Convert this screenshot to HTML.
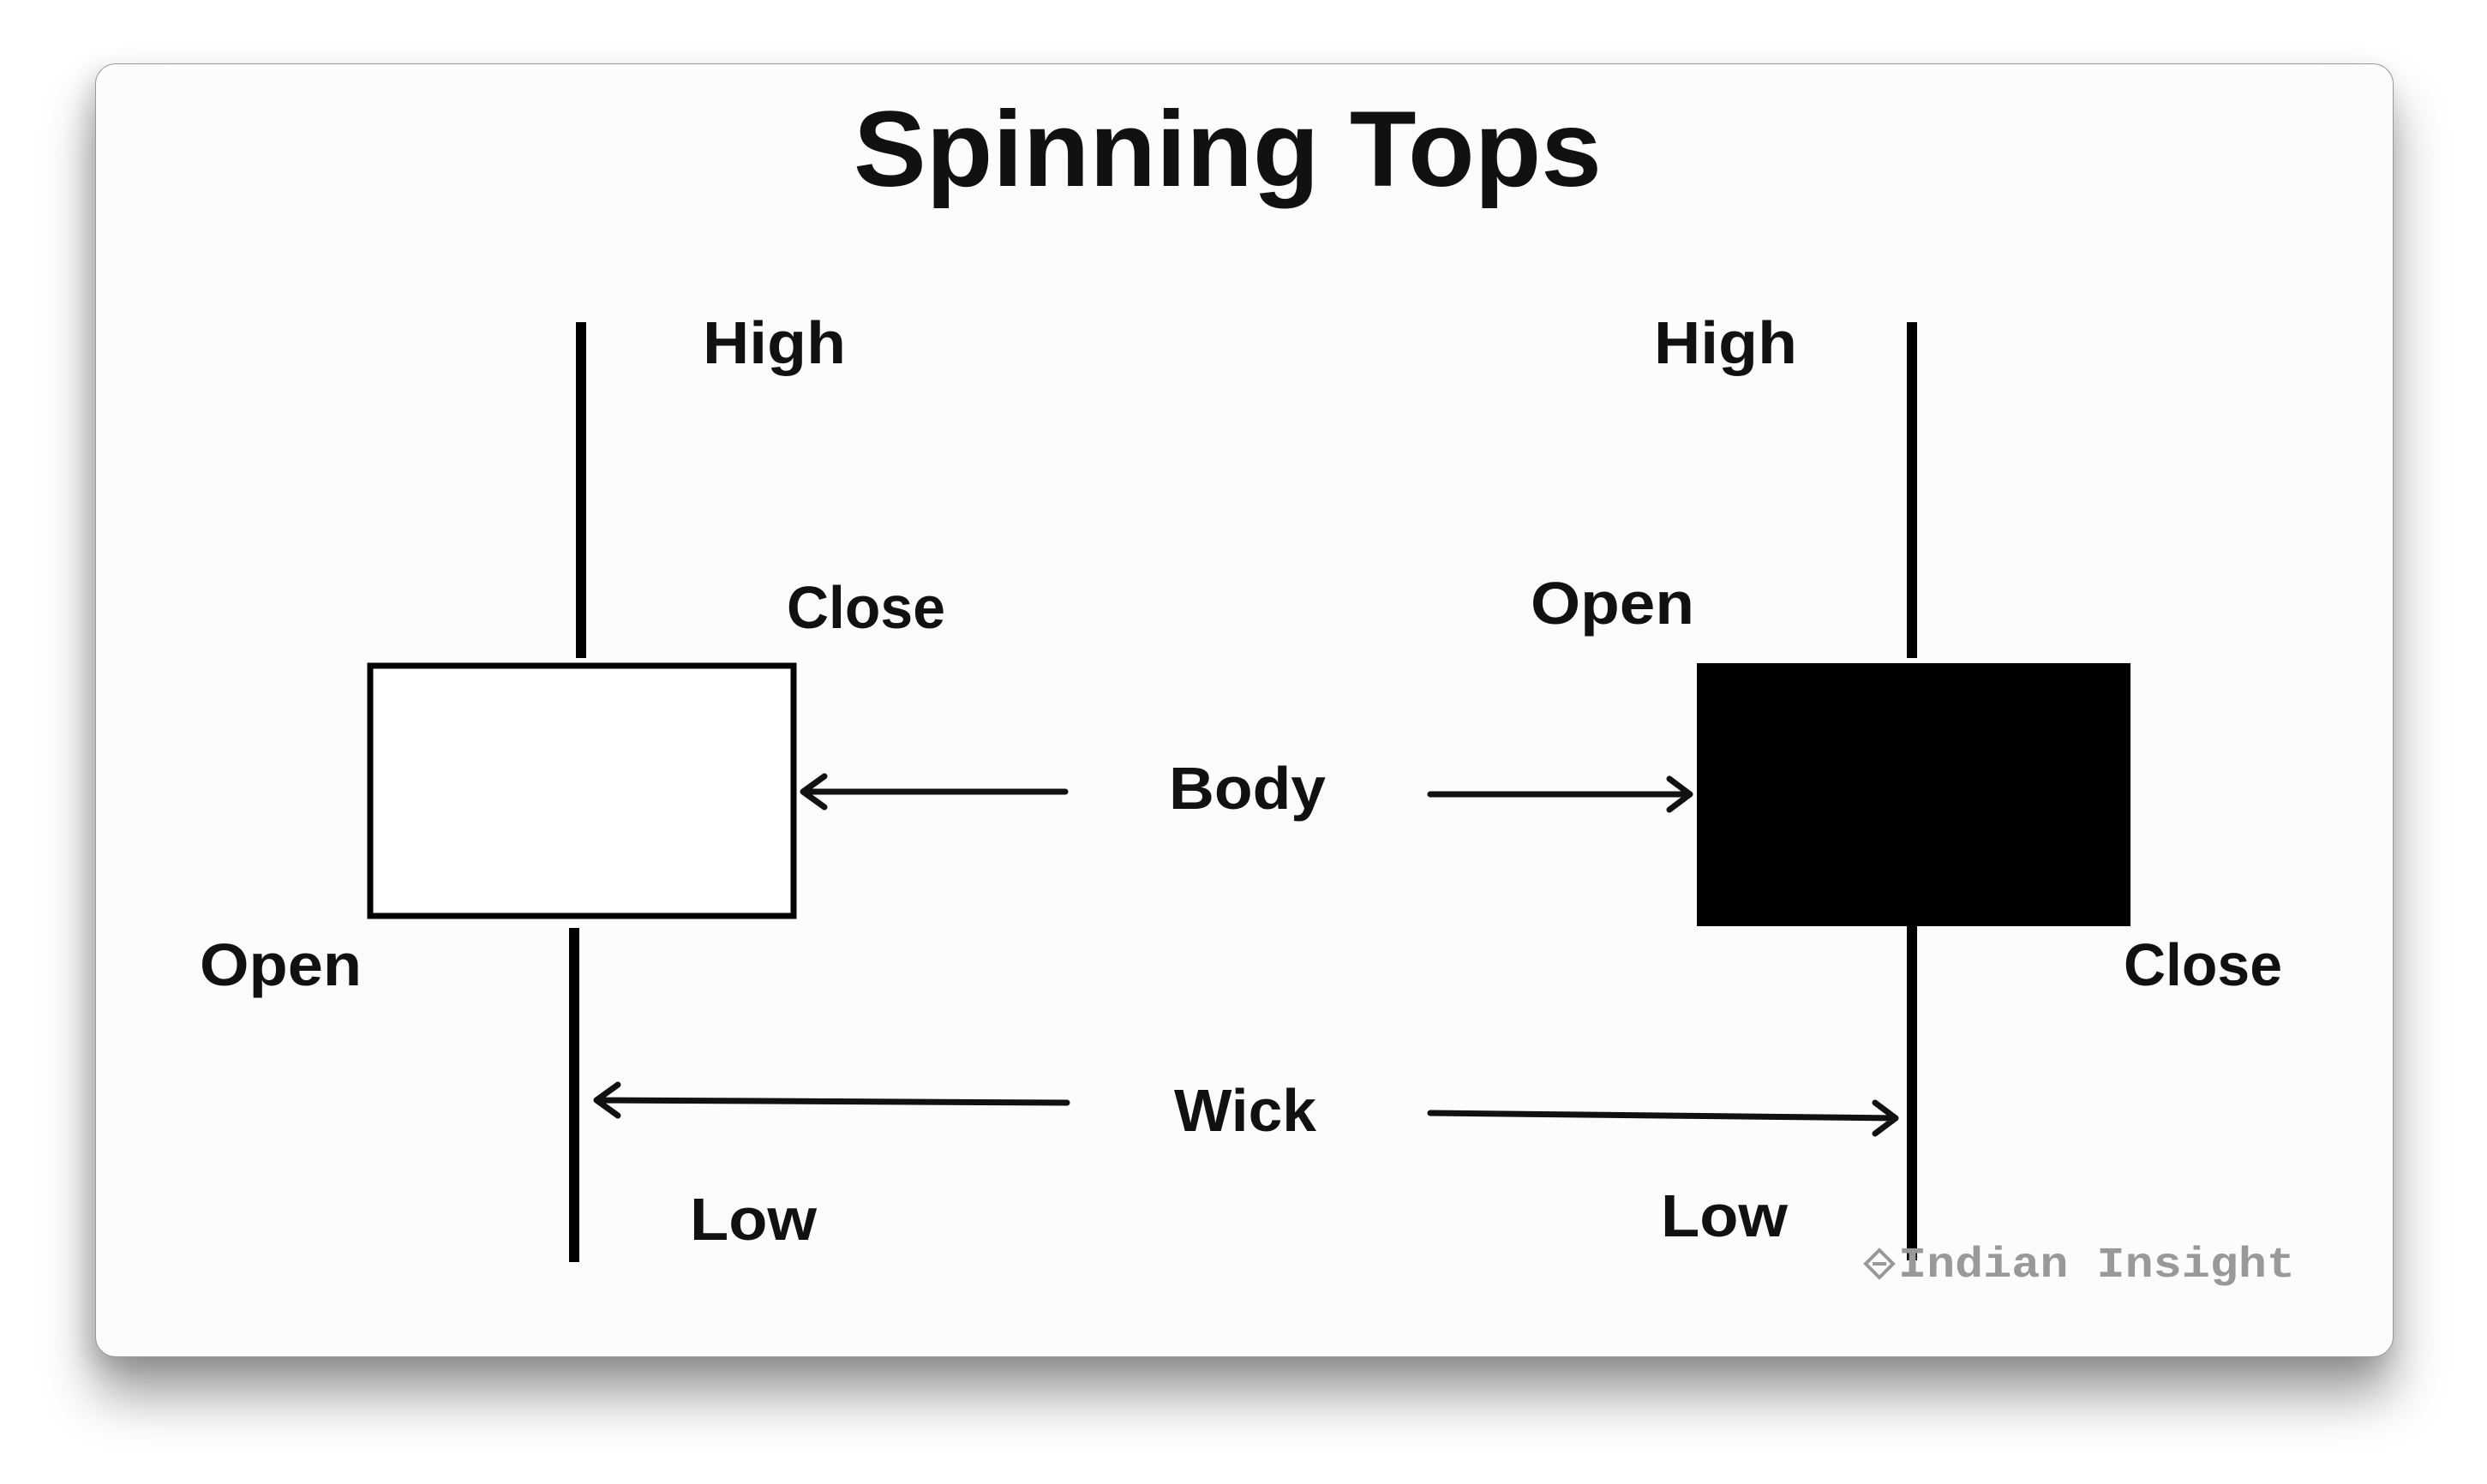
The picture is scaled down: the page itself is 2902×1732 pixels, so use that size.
<!DOCTYPE html>
<html><head><meta charset="utf-8">
<style>
html,body{margin:0;padding:0;background:#fff;width:2902px;height:1732px;overflow:hidden}
#card{position:absolute;left:111px;top:74px;width:2680px;height:1508px;background:#fcfcfc;border:1px solid #999;border-radius:24px;box-shadow:0 45px 60px rgba(0,0,0,0.38),-8px 10px 30px rgba(0,0,0,0.15)}
svg{position:absolute;left:0;top:0}
text{font-family:"Liberation Sans",sans-serif;font-weight:bold;fill:#111}
</style></head><body>
<div id="card"></div>
<svg width="2902" height="1732">
<text x="996" y="217" font-size="125" textLength="873" lengthAdjust="spacingAndGlyphs">Spinning Tops</text>
<g>
<line x1="678" y1="376" x2="678" y2="768" stroke="#000" stroke-width="12"/>
<rect x="432" y="777" width="494" height="292" fill="#fff" stroke="#000" stroke-width="7"/>
<line x1="670" y1="1083" x2="670" y2="1473" stroke="#000" stroke-width="12"/>
</g>
<g>
<line x1="2231" y1="376" x2="2231" y2="768" stroke="#000" stroke-width="12"/>
<rect x="1980" y="774" width="506" height="307" fill="#000"/>
<line x1="2231" y1="1081" x2="2231" y2="1471" stroke="#000" stroke-width="12"/>
</g>
<g fill="none" stroke="#111" stroke-width="7" stroke-linecap="round" stroke-linejoin="round">
<path d="M1243 924 L937 924 M962 906 L937 924 L962 942"/>
<path d="M1669 927 L1972 927 M1948 909 L1972 927 L1948 945"/>
<path d="M1245 1287 L696 1284 M721 1266 L696 1284 L721 1302"/>
<path d="M1669 1299 L2212 1305 M2188 1287 L2212 1305 L2188 1323"/>
</g>
<g font-size="70">
<text x="820" y="424" textLength="167" lengthAdjust="spacingAndGlyphs">High</text>
<text x="918" y="733" textLength="185" lengthAdjust="spacingAndGlyphs">Close</text>
<text x="233" y="1150" textLength="189" lengthAdjust="spacingAndGlyphs">Open</text>
<text x="805" y="1447" textLength="148" lengthAdjust="spacingAndGlyphs">Low</text>
<text x="1930" y="424" textLength="167" lengthAdjust="spacingAndGlyphs">High</text>
<text x="1786" y="728" textLength="191" lengthAdjust="spacingAndGlyphs">Open</text>
<text x="2478" y="1150" textLength="185" lengthAdjust="spacingAndGlyphs">Close</text>
<text x="1938" y="1443" textLength="148" lengthAdjust="spacingAndGlyphs">Low</text>
<text x="1364" y="944" textLength="183" lengthAdjust="spacingAndGlyphs">Body</text>
<text x="1370" y="1320" textLength="166" lengthAdjust="spacingAndGlyphs">Wick</text>
</g>
<g>
<path d="M2193 1459 l16 16 l-16 16 l-16 -16 z M2185 1475 l16 0" fill="none" stroke="#999" stroke-width="4"/>
<text x="2215" y="1490" font-size="50" textLength="463" lengthAdjust="spacingAndGlyphs" style="font-family:'Liberation Mono',monospace;fill:#999">Indian Insight</text>
</g>
</svg>
</body></html>
